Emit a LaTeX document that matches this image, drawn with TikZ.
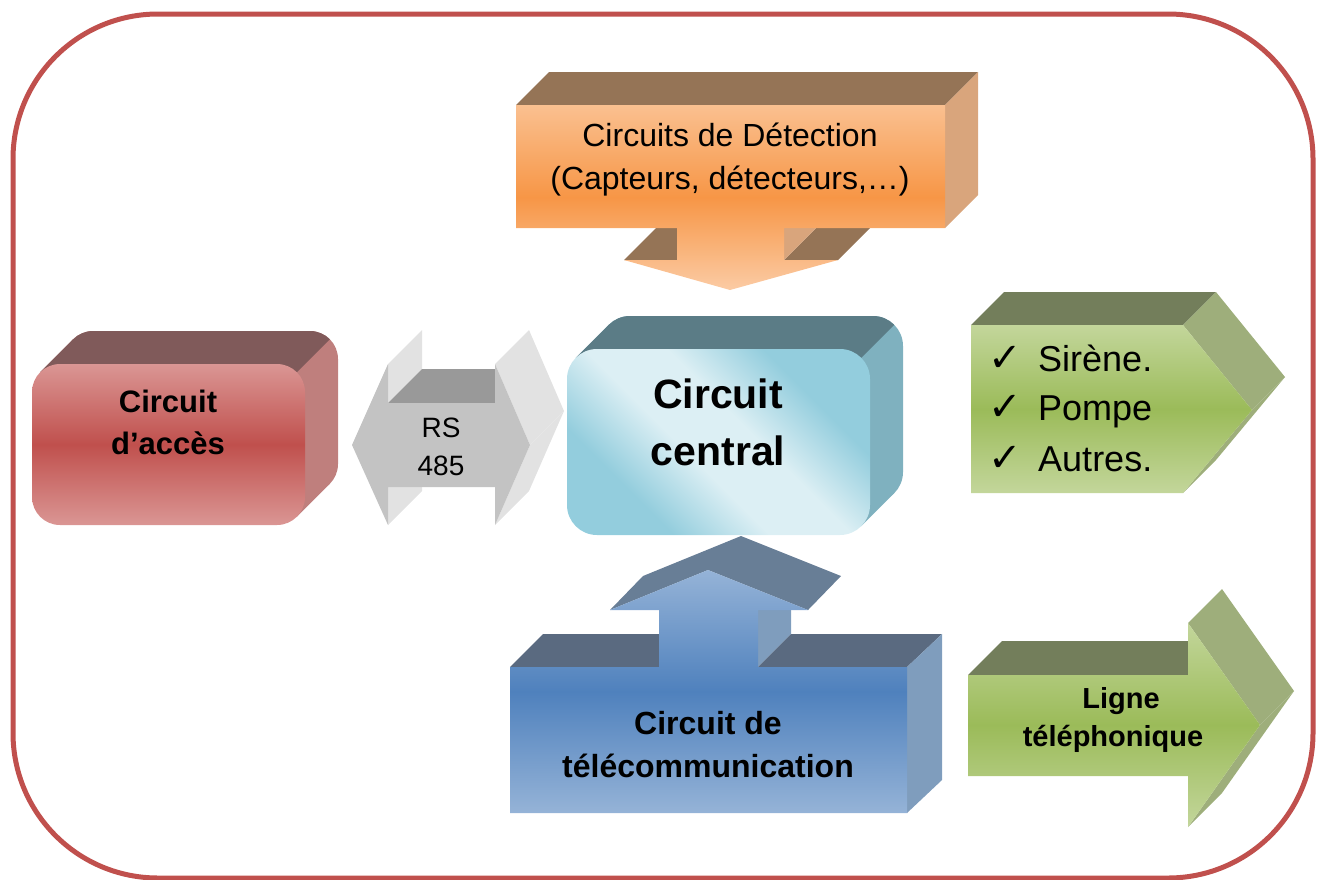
\documentclass[tikz,border=0pt]{standalone}
\usepackage{fontspec}
\setmainfont{Liberation Sans}
\newfontfamily\checkfont{DejaVu Sans}
\usetikzlibrary{positioning}

\definecolor{frameRed}{HTML}{C0504D}
\definecolor{orangeTop}{HTML}{FAC090}
\definecolor{orangeMid}{HTML}{F79646}
\definecolor{orangeBot}{HTML}{FBCBA4}
\definecolor{orangeDark}{HTML}{957456}
\definecolor{orangeSide}{HTML}{D9A57C}
\definecolor{redTop}{HTML}{DA9694}
\definecolor{redMid}{HTML}{C0504D}
\definecolor{redDark}{HTML}{805A5A}
\definecolor{redSide}{HTML}{BF7F7D}
\definecolor{cenLight}{HTML}{DCEFF4}
\definecolor{cenBlue}{HTML}{93CDDD}
\definecolor{cenDark}{HTML}{5B7C86}
\definecolor{cenSide}{HTML}{7FB1BF}
\definecolor{grayFront}{HTML}{C3C3C3}
\definecolor{graySide}{HTML}{E2E2E2}
\definecolor{grayDark}{HTML}{999999}
\definecolor{greenLight}{HTML}{C3D69B}
\definecolor{greenMid}{HTML}{9BBB59}
\definecolor{greenDark}{HTML}{737E5B}
\definecolor{greenSide}{HTML}{9EAE7B}
\definecolor{blueLight}{HTML}{95B3D7}
\definecolor{blueMid}{HTML}{4F81BD}
\definecolor{blueDark}{HTML}{5A6A80}
\definecolor{blueHead}{HTML}{687E96}
\definecolor{blueSide}{HTML}{7F9DBD}

\pgfdeclarehorizontalshading{centralfront}{100bp}{color(0bp)=(cenBlue); color(30bp)=(cenBlue); color(44bp)=(cenLight); color(56bp)=(cenLight); color(70bp)=(cenBlue); color(100bp)=(cenBlue)}

\tikzset{frame/.style={draw=frameRed, line width=5pt, rounded corners=145pt},
        label text/.style={anchor=base, inner sep=0pt, text=black},
        det text/.style={label text, font=\fontsize{32}{38}\selectfont},
        central text/.style={label text, font=\bfseries\fontsize{41}{48}\selectfont},
        acces text/.style={label text, font=\bfseries\fontsize{31}{37}\selectfont},
        rs text/.style={label text, font=\fontsize{28}{33}\selectfont},
        out text/.style={label text, anchor=base west, font=\fontsize{36}{42}\selectfont},
        check/.style={label text, anchor=base west, font=\checkfont\fontsize{40}{46}\selectfont},
        telecom text/.style={label text, font=\bfseries\fontsize{32}{38}\selectfont},
        ligne text/.style={label text, font=\bfseries\fontsize{29}{35}\selectfont},
        orange front/.style={top color=orangeTop, bottom color=orangeBot, middle color=orangeMid},
        red front/.style={top color=redTop, bottom color=redTop, middle color=redMid},
        green front/.style={top color=greenLight, bottom color=greenLight, middle color=greenMid},
        blue front/.style={top color=blueLight, bottom color=blueLight, middle color=blueMid},
}

\begin{document}
\begin{tikzpicture}[x=1pt, y=-1pt]
      \useasboundingbox (0,0) rectangle (1322,879);
      % FRAME
      \draw[frame] (13,14) rectangle (1313,878);

      % CIRCUITS DE DETECTION
      \fill[orangeDark] (516,105) -- (549,72) -- (978,72) -- (945,105) -- cycle;
      \fill[orangeSide] (945,105) -- (978,72) -- (978,195) -- (945,228) -- cycle;
      \fill[orangeDark] (624,260) -- (656,228) -- (677,228) -- (677,260) -- cycle;
      \fill[orangeDark] (784,260) -- (838,260) -- (870,228) -- (816,228) -- cycle;
      \fill[orangeSide] (784,228) -- (816,228) -- (784,260) -- cycle;
      \shade[orange front] (516,105) -- (945,105) -- (945,228) -- (784,228) -- (784,260) -- (838,260)
        -- (730,290) -- (624,260) -- (677,260) -- (677,228) -- (516,228) -- cycle;
      \node[det text] (det1) at (730,146) {Circuits de Détection};
      \node[det text] (det2) at (730,189) {(Capteurs, détecteurs,…)};

      % CIRCUIT D'ACCES
      \fill[redSide, rounded corners=28pt] (65,331) rectangle (338,492);
      \fill[redSide] (40.2,372.2) -- (73.2,339.2) -- (329.8,483.8) -- (296.8,516.8) -- cycle;
      \begin{scope}
        \clip (40.2,372.2) -- (106.2,306.2) -- (362.8,306.2) -- (296.8,372.2) -- cycle;
        \fill[redDark, rounded corners=28pt] (65,331) rectangle (338,492);
        \fill[redDark] (40.2,372.2) -- (73.2,339.2) -- (329.8,483.8) -- (296.8,516.8) -- cycle;
      \end{scope}
      \shade[red front, rounded corners=28pt] (32,364) rectangle (305,525);
      \node[acces text] (acces1) at (168,412) {Circuit};
      \node[acces text] (acces2) at (168,454) {d’accès};

      % RS 485
      \fill[graySide] (388,364) -- (422,330) -- (422,369) -- (388,403) -- cycle;
      \fill[grayDark] (388,403) -- (422,369) -- (495,369) -- (495,403) -- cycle;
      \fill[graySide] (388,487) -- (422,453) -- (422,491) -- (388,525) -- cycle;
      \fill[graySide] (495,364) -- (529,330) -- (564,411) -- (530,445) -- cycle;
      \fill[graySide] (530,445) -- (564,411) -- (529,491) -- (495,525) -- cycle;
      \fill[grayFront] (352,445) -- (388,364) -- (388,403) -- (495,403) -- (495,364) -- (530,445)
        -- (495,525) -- (495,487) -- (388,487) -- (388,525) -- cycle;
      \node[rs text] (rs1) at (441,437) {RS};
      \node[rs text] (rs2) at (441,475) {485};

      % CIRCUIT CENTRAL
      \fill[cenSide, rounded corners=30pt] (600,316) rectangle (903,502);
      \fill[cenSide] (575.8,357.8) -- (608.8,324.8) -- (894.2,493.2) -- (861.2,526.2) -- cycle;
      \begin{scope}
        \clip (575.8,357.8) -- (641.8,291.8) -- (927.2,291.8) -- (861.2,357.8) -- cycle;
        \fill[cenDark, rounded corners=30pt] (600,316) rectangle (903,502);
        \fill[cenDark] (575.8,357.8) -- (608.8,324.8) -- (894.2,493.2) -- (861.2,526.2) -- cycle;
      \end{scope}
      \shade[shading=centralfront, shading angle=45, rounded corners=30pt] (567,349) rectangle (870,535);
      \node[central text] (central1) at (718,408) {Circuit};
      \node[central text] (central2) at (718,465) {central};

      % SORTIES
      \fill[greenDark] (971,325) -- (1004,292) -- (1216,292) -- (1183,325) -- cycle;
      \fill[greenSide] (1183,325) -- (1216,292) -- (1285,377) -- (1252,410) -- cycle;
      \fill[greenSide] (1252,410) -- (1285,377) -- (1216,460) -- (1183,493) -- cycle;
      \shade[green front] (971,325) -- (1183,325) -- (1252,410) -- (1183,493) -- (971,493) -- cycle;
      \node[check] (chk1) at (988,371) {✓};
      \node[check] (chk2) at (988,420) {✓};
      \node[check] (chk3) at (988,471) {✓};
      \node[out text] (out1) at (1038,371) {Sirène.};
      \node[out text] (out2) at (1038,420) {Pompe};
      \node[out text] (out3) at (1038,471) {Autres.};

      % CIRCUIT DE TELECOMMUNICATION
      \fill[blueHead] (610,610) -- (643,576) -- (741,536) -- (841,576) -- (808,610) -- (708,570) -- cycle;
      \fill[blueDark] (510,667) -- (543,634) -- (659,634) -- (659,667) -- cycle;
      \fill[blueSide] (758,610) -- (791,610) -- (791,634) -- (758,667) -- cycle;
      \fill[blueDark] (758,667) -- (791,634) -- (942,634) -- (907,667) -- cycle;
      \fill[blueSide] (907,667) -- (942,634) -- (942,780) -- (907,813) -- cycle;
      \shade[blue front] (510,667) -- (659,667) -- (659,610) -- (610,610) -- (708,570) -- (808,610)
        -- (758,610) -- (758,667) -- (907,667) -- (907,813) -- (510,813) -- cycle;
      \node[telecom text] (telecom1) at (708,734) {Circuit de};
      \node[telecom text] (telecom2) at (708,777) {télécommunication};

      % LIGNE TELEPHONIQUE
      \fill[greenDark] (968,675) -- (1002,641) -- (1188,641) -- (1188,675) -- cycle;
      \fill[greenSide] (1188,623) -- (1222,589) -- (1294,691) -- (1260,725) -- cycle;
      \fill[greenSide] (1260,725) -- (1294,691) -- (1222,793) -- (1188,827) -- cycle;
      \shade[green front] (968,675) -- (1188,675) -- (1188,623) -- (1260,725) -- (1188,827)
        -- (1188,776) -- (968,776) -- cycle;
      \node[ligne text] (ligne1) at (1121,708) {Ligne};
      \node[ligne text] (ligne2) at (1113,746) {téléphonique};
\end{tikzpicture}
\end{document}
